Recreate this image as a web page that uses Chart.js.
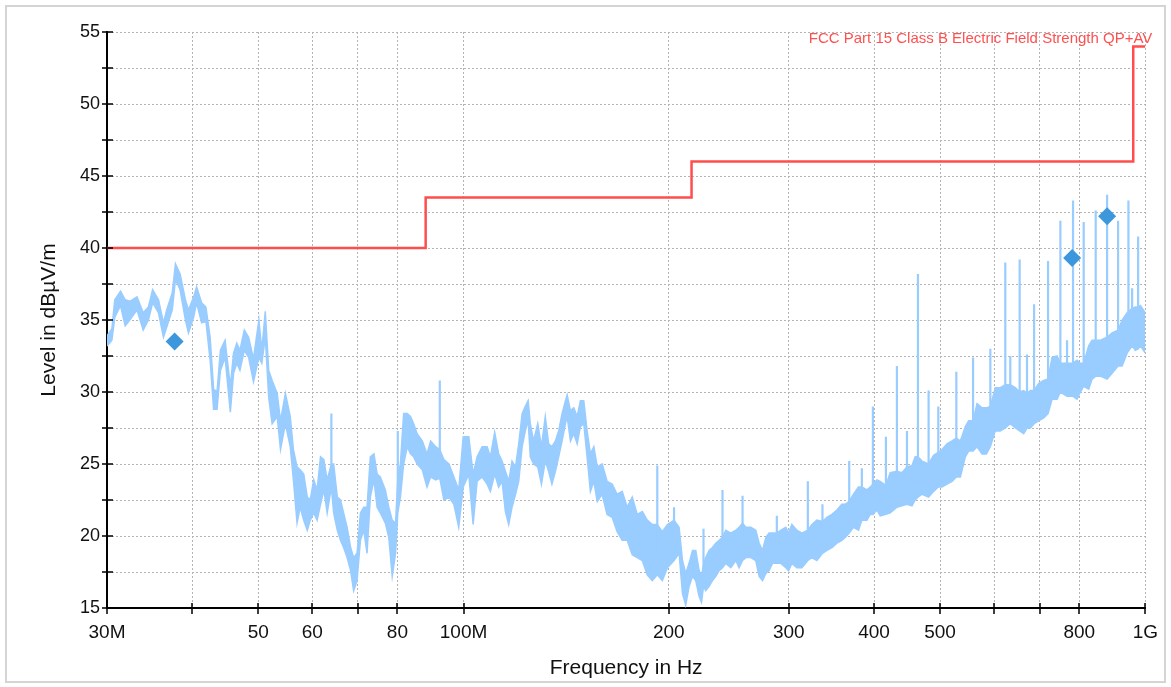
<!DOCTYPE html>
<html>
<head>
<meta charset="utf-8">
<script src="https://cdn.jsdelivr.net/npm/chart.js@4.4.0/dist/chart.umd.min.js"></script>
<style>
  html, body { margin: 0; padding: 0; background: #fff; }
  #frame { position: absolute; left: 5px; top: 5px; width: 1161px; height: 678px; border: 2px solid #d4d4d4; box-sizing: border-box; }
  #c { position: absolute; left: 0; top: 0; }
</style>
</head>
<body>
<div id="frame"></div>
<canvas id="c" width="1171" height="687"></canvas>
<script>
// frequencies in MHz, levels in dBuV/m (min / max of the noisy trace)
const traceFreq = [
  30.0, 30.5, 30.8, 31.4, 31.9, 32.4, 33.2, 33.9, 34.5, 35.0,
  35.7, 36.3, 36.7, 37.4, 37.8, 38.4, 39.1, 39.5, 40.2, 40.6,
  41.3, 41.9, 42.5, 43.0, 43.5, 44.0, 44.7, 45.5, 46.0, 46.5,
  47.0, 47.7, 48.4, 49.2, 50.1, 50.6, 51.2, 51.8, 52.4, 53.3,
  53.9, 54.8, 55.7, 56.3, 57.0, 57.6, 58.3, 59.0, 59.6, 60.3,
  61.0, 61.7, 62.4, 63.1, 64.0, 64.5, 65.3, 66.0, 66.7, 67.5,
  68.3, 69.0, 69.8, 70.6, 71.4, 72.2, 73.0, 73.9, 74.7, 75.5,
  76.8, 77.7, 78.6, 79.5, 80.1, 80.8, 81.7, 82.7, 83.6, 84.5,
  85.5, 87.0, 88.4, 89.5, 91.0, 92.3, 93.6, 95.2, 96.8, 98.4,
  99.9, 101.8, 103.3, 104.7, 106.5, 108.3, 109.5, 111.1, 112.6, 113.9,
  115.2, 116.5, 117.8, 119.2, 120.5, 121.9, 123.2, 124.4, 125.3, 126.7,
  128.5, 130.1, 131.8, 133.3, 134.8, 136.4, 137.9, 139.5, 141.1, 141.9,
  143.5, 145.1, 146.8, 148.4, 150.1, 151.8, 153.5, 155.3, 157.1, 159.7,
  162.4, 165.2, 168.0, 170.9, 173.8, 176.8, 179.8, 182.9, 186.0, 189.2,
  192.4, 195.7, 199.1, 203.6, 207.1, 209.5, 211.8, 214.2, 216.7, 219.1,
  221.6, 223.4, 224.9, 226.6, 229.2, 231.8, 234.4, 237.1, 239.8, 242.5,
  246.6, 250.9, 253.6, 256.6, 259.5, 263.9, 268.3, 271.4, 274.5, 277.6,
  280.7, 283.9, 288.1, 292.1, 297.0, 299.7, 303.1, 308.3, 313.5, 319.9,
  324.3, 329.8, 336.1, 341.2, 347.0, 352.9, 358.9, 362.9, 367.9, 373.2,
  379.6, 383.9, 390.5, 394.9, 398.5, 404.0, 408.5, 416.4, 422.5, 432.2,
  439.5, 447.1, 454.7, 459.7, 464.0, 470.4, 481.0, 489.2, 497.0, 503.3,
  511.8, 520.6, 528.2, 535.4, 544.5, 550.7, 558.9, 566.5, 576.1, 584.5,
  592.5, 602.5, 612.8, 623.2, 633.8, 644.7, 654.2, 663.1, 670.6, 678.3,
  686.8, 697.6, 709.5, 720.0, 729.8, 742.2, 750.6, 767.7, 783.4, 794.1,
  803.0, 812.1, 825.9, 835.5, 845.7, 859.3, 878.9, 893.8, 912.1, 924.6,
  940.3, 956.3, 967.0, 976.0, 983.5, 1000
];
const traceLow = [
  33.2, 33.6, 35.2, 36.0, 34.6, 35.0, 35.7, 34.3, 35.0, 36.2,
  35.5, 33.8, 34.5, 35.7, 37.8, 37.1, 35.0, 34.1, 35.2, 36.2,
  34.8, 34.9, 32.2, 28.8, 28.8, 31.5, 32.4, 28.6, 31.3, 32.0,
  31.5, 32.9, 32.4, 30.7, 32.4, 32.0, 33.8, 29.6, 27.8, 28.3,
  26.0, 27.8, 26.2, 23.9, 20.9, 22.0, 21.1, 20.4, 21.1, 21.6,
  21.1, 22.2, 23.2, 21.6, 23.4, 21.6, 20.4, 19.7, 19.2, 18.5,
  17.6, 16.2, 16.9, 19.7, 20.4, 18.8, 22.7, 23.9, 22.0, 21.6,
  20.9, 19.9, 17.2, 18.8, 21.6, 22.7, 25.0, 26.2, 25.7, 25.5,
  25.0, 24.6, 23.4, 24.1, 23.9, 24.0, 22.5, 22.7, 22.2, 20.6,
  23.4, 24.3, 20.8, 23.8, 24.1, 23.6, 23.1, 24.3, 23.4, 23.8,
  21.7, 20.8, 22.0, 22.9, 23.8, 26.2, 27.3, 28.0, 25.5, 25.0,
  24.8, 23.6, 25.2, 24.5, 23.6, 24.5, 25.5, 26.6, 27.8, 28.3,
  26.6, 27.1, 26.4, 27.6, 27.8, 25.5, 23.1, 23.8, 22.4, 22.9,
  21.5, 21.3, 20.3, 19.7, 19.7, 18.7, 18.5, 18.3, 17.3, 16.9,
  17.3, 16.9, 17.8, 18.3, 18.8, 16.0, 15.2, 16.5, 17.2, 16.9,
  15.8, 15.4, 16.5, 16.2, 16.5, 16.9, 17.2, 17.6, 17.8, 18.1,
  17.8, 18.3, 17.8, 18.3, 18.5, 18.5, 18.3, 17.2, 16.9, 17.4,
  17.6, 18.1, 18.1, 18.1, 17.8, 17.6, 18.1, 17.8, 17.8, 18.3,
  18.5, 18.3, 18.8, 19.0, 19.2, 19.5, 19.7, 19.9, 20.2, 20.6,
  20.4, 21.1, 21.1, 21.5, 21.5, 21.8, 21.4, 21.5, 21.6, 22.0,
  22.1, 22.2, 22.1, 22.5, 22.7, 22.9, 22.7, 23.1, 23.4, 23.4,
  23.6, 23.8, 24.1, 24.1, 25.5, 25.9, 25.9, 26.2, 25.7, 25.7,
  26.2, 27.3, 27.3, 27.5, 27.8, 27.5, 27.3, 27.1, 27.5, 27.5,
  27.8, 28.0, 28.2, 28.5, 29.5, 29.5, 30.0, 29.7, 29.7, 29.5,
  30.0, 30.4, 30.2, 30.9, 31.1, 31.1, 30.9, 31.3, 31.8, 31.8,
  32.7, 33.2, 32.9, 33.0, 33.2, 32.7
];
const traceHigh = [
  33.9, 34.4, 36.4, 37.0, 36.4, 36.3, 36.6, 35.5, 35.9, 37.1,
  36.4, 34.8, 35.7, 36.9, 38.9, 38.2, 36.4, 35.7, 36.6, 37.3,
  36.2, 35.9, 33.8, 30.2, 30.0, 32.9, 33.6, 30.4, 32.7, 33.4,
  32.9, 34.3, 33.8, 32.3, 35.0, 32.9, 35.6, 31.5, 30.8, 29.9,
  28.0, 29.9, 28.3, 26.0, 24.8, 24.6, 24.3, 22.7, 22.5, 23.9,
  23.2, 25.5, 25.3, 23.9, 25.0, 25.0, 22.7, 22.5, 21.6, 20.6,
  19.2, 18.5, 18.8, 21.6, 22.0, 22.0, 25.5, 25.7, 24.3, 24.1,
  23.2, 22.0, 21.1, 20.9, 24.0, 25.0, 28.5, 28.5, 28.3, 27.8,
  27.1, 26.6, 25.7, 26.6, 26.2, 26.0, 25.3, 25.0, 24.1, 23.2,
  26.9, 26.9, 24.3, 25.5, 26.2, 26.2, 25.5, 27.2, 25.7, 25.2,
  24.5, 23.8, 25.2, 24.8, 26.4, 28.5, 29.0, 29.4, 27.8, 26.6,
  27.8, 26.2, 28.3, 26.4, 26.2, 26.6, 27.3, 28.5, 29.4, 29.8,
  28.7, 28.9, 28.3, 29.4, 29.4, 27.3, 25.7, 26.2, 24.8, 25.0,
  23.8, 23.6, 22.9, 23.1, 22.0, 22.7, 21.5, 21.7, 21.1, 20.8,
  20.8, 20.3, 20.8, 21.1, 20.6, 18.3, 17.4, 18.1, 19.0, 19.0,
  17.6, 17.2, 18.0, 18.5, 19.0, 19.2, 19.5, 19.7, 19.9, 20.4,
  20.2, 20.4, 20.6, 20.9, 20.6, 20.6, 20.4, 19.5, 19.0, 19.9,
  20.2, 20.2, 20.2, 20.4, 20.6, 20.2, 20.8, 20.4, 20.2, 20.4,
  20.8, 21.1, 21.0, 21.3, 21.5, 21.8, 22.2, 22.2, 22.4, 22.9,
  23.4, 23.4, 23.2, 23.4, 23.6, 23.9, 23.8, 23.5, 24.4, 24.5,
  24.4, 24.8, 24.9, 25.5, 25.5, 25.2, 25.0, 25.6, 25.8, 26.0,
  26.4, 26.6, 26.8, 26.6, 27.6, 28.0, 28.0, 29.2, 28.9, 28.9,
  29.0, 30.3, 30.3, 30.5, 30.5, 30.3, 30.0, 30.1, 29.9, 30.1,
  30.1, 30.6, 30.8, 30.9, 32.4, 32.5, 32.0, 32.0, 32.0, 32.2,
  32.0, 32.0, 33.2, 33.6, 33.6, 33.6, 33.8, 34.1, 34.3, 35.0,
  35.5, 35.8, 35.9, 35.9, 36.0, 35.5
];

// narrow emission spikes above the noise band
const spikeFreq = [64.0, 80.1, 92.3, 192.4, 203.6, 224.9, 239.8, 256.6, 288.1, 319.9,
  336.1, 367.9, 383.9, 398.5, 416.4, 432.2, 447.1, 464.0, 481.0, 497.0,
  528.2, 558.9, 592.5, 623.2, 633.8, 654.2, 670.6, 686.8, 720.0, 750.6,
  767.7, 783.4, 812.1, 845.7, 878.9, 912.1, 944.5, 956.3, 976.0];
const spikeBase = [24.0, 22.0, 25.0, 19.0, 20.0, 17.5, 19.0, 20.0, 19.5, 19.5,
  20.0, 21.5, 22.5, 22.5, 22.5, 23.5, 23.5, 24.0, 24.0, 24.5,
  25.5, 27.0, 27.5, 29.0, 29.0, 29.0, 29.0, 29.0, 29.5, 31.0,
  31.0, 31.0, 31.0, 32.5, 32.5, 33.0, 34.0, 34.5, 34.5];
const spikeTop = [28.5, 27.3, 30.8, 24.9, 22.0, 20.5, 23.2, 22.8, 21.4, 23.8,
  22.2, 25.2, 24.7, 29.0, 26.9, 31.8, 27.3, 38.2, 30.1, 29.0,
  31.4, 32.4, 33.0, 39.0, 32.5, 39.2, 32.6, 36.1, 39.1, 41.9,
  33.6, 43.3, 41.8, 42.6, 43.7, 41.9, 43.3, 37.2, 40.8];

// final measurement points
const markerFreq = [37.7, 781, 879];
const markerLevel = [33.5, 39.3, 42.2];

// FCC Part 15 Class B limit (stepped)
const limitName = 'FCC Part 15 Class B Electric Field Strength QP+AV';
const limitFreq = [30, 88, 88, 216, 216, 960, 960, 1000];
const limitLevel = [40, 40, 43.5, 43.5, 46, 46, 54, 54];

const xTickValues = [30, 40, 50, 60, 70, 80, 100, 200, 300, 400, 500, 600, 700, 800, 1000];
const xTickLabels = ['30M', '', '50', '60', '', '80', '100M', '200', '300', '400', '500', '', '', '800', '1G'];

const FONT = '"Liberation Sans", Arial, sans-serif';

const spikePoints = [];
spikeFreq.forEach((f, i) => {
  spikePoints.push({x: f, y: spikeBase[i]}, {x: f, y: spikeTop[i]}, {x: f, y: null});
});

const crossTicks = {
  id: 'crossTicks',
  afterDraw(chart) {
    const {ctx, chartArea, scales} = chart;
    ctx.save();
    ctx.strokeStyle = '#000';
    ctx.lineWidth = 1.5;
    ctx.beginPath();
    scales.x.ticks.forEach(t => {
      const px = Math.round(scales.x.getPixelForValue(t.value));
      ctx.moveTo(px, chartArea.bottom - 5);
      ctx.lineTo(px, chartArea.bottom + 6);
    });
    scales.y.ticks.forEach(t => {
      const py = Math.round(scales.y.getPixelForValue(t.value));
      ctx.moveTo(chartArea.left - 5, py);
      ctx.lineTo(chartArea.left + 6, py);
    });
    ctx.stroke();
    ctx.fillStyle = '#ff5050';
    ctx.font = '15px ' + FONT;
    ctx.textAlign = 'right';
    ctx.textBaseline = 'alphabetic';
    ctx.fillText(limitName, chartArea.right + 7, 43);
    ctx.restore();
  }
};

new Chart(document.getElementById('c'), {
  type: 'line',
  data: {
    datasets: [{
      label: 'Final',
      data: markerFreq.map((f, i) => ({x: f, y: markerLevel[i]})),
      showLine: false,
      pointStyle: 'rectRot',
      pointRadius: 9,
      backgroundColor: '#3d97dc',
      borderColor: '#3d97dc',
      borderWidth: 0
    }, {
      label: limitName,
      data: limitFreq.map((f, i) => ({x: f, y: limitLevel[i]})),
      borderColor: '#ff4d4d',
      borderWidth: 2.5,
      pointRadius: 0,
      fill: false
    }, {
      label: 'Spikes',
      data: spikePoints,
      borderColor: '#99ccff',
      borderWidth: 2.2,
      pointRadius: 0,
      spanGaps: false,
      fill: false
    }, {
      label: 'Peak max',
      data: traceFreq.map((f, i) => ({x: f, y: traceHigh[i]})),
      borderColor: '#99ccff',
      backgroundColor: '#99ccff',
      borderWidth: 1.5,
      pointRadius: 0,
      fill: '+1'
    }, {
      label: 'Peak min',
      data: traceFreq.map((f, i) => ({x: f, y: traceLow[i]})),
      borderColor: '#99ccff',
      borderWidth: 1.5,
      pointRadius: 0,
      fill: false
    }]
  },
  options: {
    responsive: false,
    animation: false,
    layout: { padding: { left: 0, top: 32, right: 25, bottom: 0 } },
    plugins: { legend: { display: false }, tooltip: { enabled: false } },
    scales: {
      x: {
        type: 'logarithmic',
        min: 30,
        max: 1000,
        afterBuildTicks: scale => { scale.ticks = xTickValues.map(v => ({value: v})); },
        afterFit: scale => { scale.height = 79; },
        ticks: {
          autoSkip: false,
          maxRotation: 0,
          minRotation: 0,
          padding: 13,
          color: '#111',
          font: { family: FONT, size: 19 },
          callback: (v, i) => xTickLabels[i]
        },
        grid: { color: '#b4b4b4', lineWidth: 1, drawTicks: false },
        border: { display: true, color: '#000', width: 2, dash: [2, 2] },
        title: {
          display: true,
          text: 'Frequency in Hz',
          color: '#111',
          font: { family: FONT, size: 21 },
          padding: { top: 0, bottom: 6 }
        }
      },
      y: {
        type: 'linear',
        min: 15,
        max: 55,
        afterFit: scale => { scale.width = 107; },
        ticks: {
          stepSize: 2.5,
          padding: 7,
          color: '#111',
          font: { family: FONT, size: 18 },
          callback: v => (v % 5 === 0 ? String(v) : '')
        },
        grid: { color: '#b4b4b4', lineWidth: 1, drawTicks: false },
        border: { display: true, color: '#000', width: 2, dash: [2, 2] },
        title: {
          display: true,
          text: 'Level in dBµV/m',
          color: '#111',
          font: { family: FONT, size: 21 },
          padding: { top: 37, bottom: 0 }
        }
      }
    }
  },
  plugins: [crossTicks]
});
</script>
</body>
</html>
